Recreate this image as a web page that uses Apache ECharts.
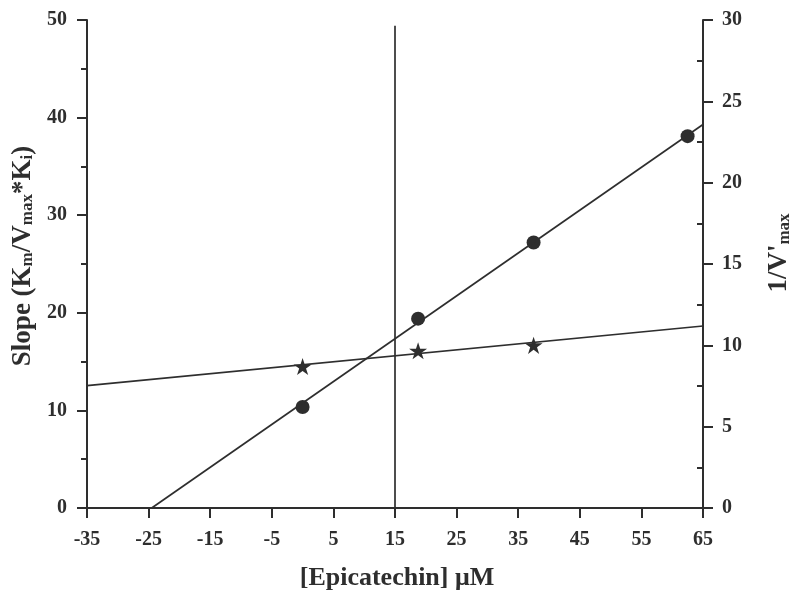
<!DOCTYPE html>
<html><head><meta charset="utf-8">
<script src="https://cdn.jsdelivr.net/npm/echarts@6/dist/echarts.min.js"></script>
<style>html,body{margin:0;padding:0;background:#fff}#c{width:794px;height:594px}</style>
</head><body><div id="c"></div>
<script>
// Data
const circleX = [0, 18.75, 37.5, 62.5];
const circleSlope = [10.35, 19.4, 27.2, 38.1];
const starX = [0, 18.75, 37.5];
const starInvVmax = [8.7, 9.67, 10.0];
const slopeFitX = [-24.5, 65];
const slopeFitY = [0, 39.3];
const vmaxFitX = [-35, 65];
const vmaxFitY = [7.52, 11.19];
const refLineX = [15, 15];
const refLineY = [0, 49.4];

const INK = '#2e2e2e';
const FONT = 'Liberation Serif';
const pairs = (xs, ys) => xs.map((x, i) => [x, ys[i]]);
const STAR = 'path://M50 0 L61.17 34.63 L97.55 34.55 L68.07 55.87 L79.39 90.45 L50 69 L20.61 90.45 L31.93 55.87 L2.45 34.55 L38.83 34.63 Z';

const tickLabel = { color: INK, fontFamily: FONT, fontWeight: 'bold', fontSize: 20 };
const richName = {
  a: { fontFamily: FONT, fontWeight: 'bold', fontSize: 27, color: INK, lineHeight: 36, verticalAlign: 'bottom' },
  s: { fontFamily: FONT, fontWeight: 'bold', fontSize: 17, color: INK, lineHeight: 13, verticalAlign: 'bottom' }
};

const chart = echarts.init(document.getElementById('c'), null, { renderer: 'canvas' });
chart.setOption({
  backgroundColor: '#fff',
  animation: false,
  grid: { left: 87, right: 91, top: 20, bottom: 86, containLabel: false, outerBoundsMode: 'none' },
  xAxis: {
    type: 'value', min: -35, max: 65, interval: 10,
    axisLine: { show: true, onZero: false, lineStyle: { color: INK, width: 2 } },
    axisTick: { show: true, length: 10, lineStyle: { color: INK, width: 2 } },
    axisLabel: Object.assign({ margin: 22 }, tickLabel),
    splitLine: { show: false },
    name: '[Epicatechin] μM', nameLocation: 'middle', nameGap: 57,
    nameTextStyle: { fontFamily: FONT, fontWeight: 'bold', fontSize: 26, color: INK, padding: [0, 0, 0, 4] }
  },
  yAxis: [
    {
      type: 'value', position: 'left', min: 0, max: 50, interval: 10,
      axisLine: { show: true, onZero: false, lineStyle: { color: INK, width: 2 } },
      axisTick: { show: true, length: 10, lineStyle: { color: INK, width: 2 } },
      minorTick: { show: true, splitNumber: 2, length: 6, lineStyle: { color: INK, width: 2 } },
      axisLabel: Object.assign({ margin: 20 }, tickLabel),
      splitLine: { show: false }, minorSplitLine: { show: false },
      name: '{a|Slope (K}{s|m}{a|/V}{s|max}{a|*K}{s|i}{a|)}',
      nameLocation: 'middle', nameGap: 46,
      nameTextStyle: { rich: richName, padding: [0, 0, 0, 16] }
    },
    {
      type: 'value', position: 'right', min: 0, max: 30, interval: 5,
      axisLine: { show: true, onZero: false, lineStyle: { color: INK, width: 2 } },
      axisTick: { show: true, length: 10, lineStyle: { color: INK, width: 2 } },
      axisLabel: Object.assign({ margin: 19 }, tickLabel),
      splitLine: { show: false },
      name: '{a|1/V\'}{s|max}',
      nameLocation: 'middle', nameGap: 54,
      nameTextStyle: { rich: richName, padding: [0, 0, 0, 22] }
    },
    {
      type: 'value', position: 'right', min: 0, max: 30, interval: 5,
      axisLine: { show: false, onZero: false },
      axisTick: { show: false, inside: true },
      minorTick: { show: true, splitNumber: 2, length: 6, lineStyle: { color: INK, width: 2 } },
      axisLabel: { show: false },
      splitLine: { show: false }, minorSplitLine: { show: false }
    }
  ],
  series: [
    {
      type: 'line', yAxisIndex: 0, data: pairs(refLineX, refLineY), symbol: 'none',
      lineStyle: { color: INK, width: 1.7 }, silent: true
    },
    {
      type: 'line', yAxisIndex: 0, data: pairs(slopeFitX, slopeFitY), symbol: 'none',
      lineStyle: { color: INK, width: 1.7 }, silent: true
    },
    {
      type: 'line', yAxisIndex: 1, data: pairs(vmaxFitX, vmaxFitY), symbol: 'none',
      lineStyle: { color: INK, width: 1.7 }, silent: true
    },
    {
      type: 'scatter', yAxisIndex: 0, data: pairs(circleX, circleSlope),
      symbol: 'circle', symbolSize: 14, itemStyle: { color: INK, opacity: 1 }
    },
    {
      type: 'scatter', yAxisIndex: 1, data: pairs(starX, starInvVmax),
      symbol: STAR, symbolSize: 18, symbolKeepAspect: true, itemStyle: { color: INK, opacity: 1 }
    }
  ]
});
</script>
</body></html>
